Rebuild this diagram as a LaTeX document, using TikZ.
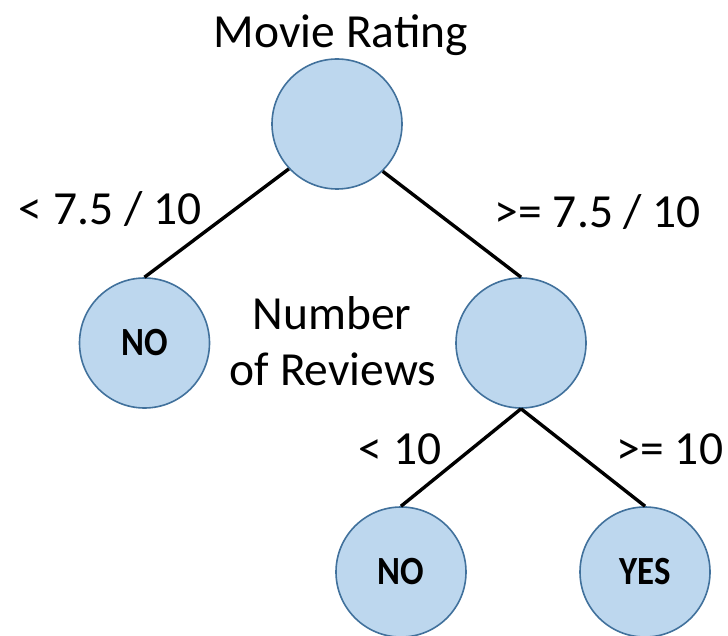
\documentclass[tikz,border=0pt]{standalone}
\usepackage{fontspec}
\setmainfont{Carlito}
\newfontfamily\leaffont[FakeStretch=0.87]{Carlito}
\definecolor{nodefill}{HTML}{BDD7EE}
\definecolor{nodeedge}{HTML}{41719C}
\begin{document}
\begin{tikzpicture}[x=1pt,y=-1pt,
  treenode/.style={circle, draw=nodeedge, fill=nodefill, line width=1.6pt,
    minimum size=130pt, inner sep=0pt, font=\leaffont\fontsize{40}{44}\selectfont\bfseries},
  edge/.style={draw=black, line width=3.4pt},
  lbl/.style={anchor=base, inner sep=0pt, font=\fontsize{47.5}{56}\selectfont}]
\useasboundingbox (0,0) rectangle (728,636);

% decision nodes and leaves
\node[treenode] (root) at (337,124) {};
\node[treenode] (noA) at (144.5,343) {NO};
\node[treenode] (mid) at (521,343) {};
\node[treenode] (noB) at (401,572) {NO};
\node[treenode] (yes) at (645,572) {YES};

% branches
\draw[edge] (root.223) -- (noA.north);
\draw[edge] (root.314) -- (mid.north);
\draw[edge] (mid.south) -- (noB.north);
\draw[edge] (mid.south) -- (yes.north);

% feature names and split conditions
\node[lbl] (t1) at (341,48) {Movie Rating};
\node[lbl] (t2) at (332,330) {Number};
\node[lbl] (t3) at (333,385) {of Reviews};
\node[lbl] (c1) at (110,225) {< 7.5 / 10};
\node[lbl] (c2) at (598,228) {>= 7.5 / 10};
\node[lbl] (c3) at (400,464) {< 10};
\node[lbl] (c4) at (670,464) {>= 10};
\end{tikzpicture}
\end{document}
